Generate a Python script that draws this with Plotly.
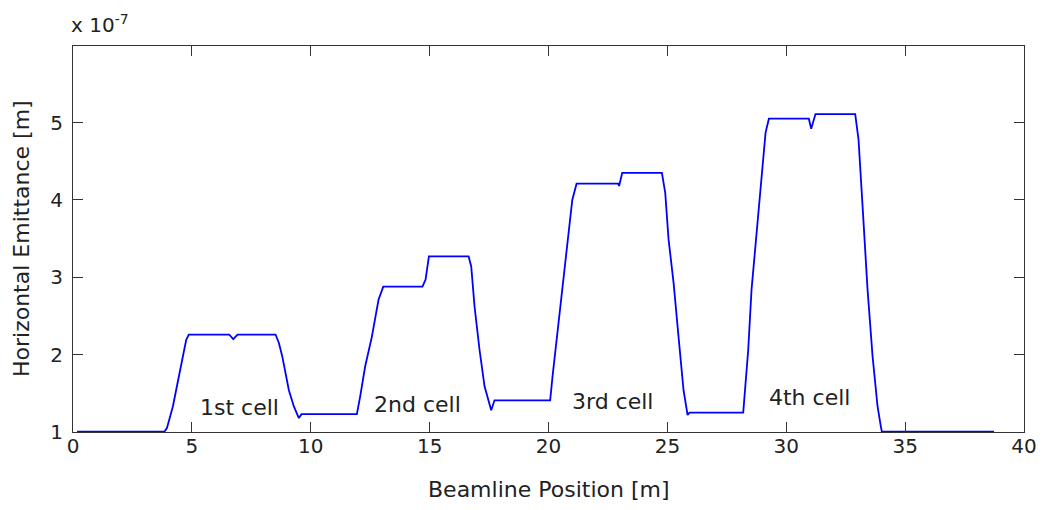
import plotly.graph_objects as go

# Beamline position [m]
position = [0.17, 3.85, 3.95, 4.20, 4.48, 4.76, 4.87, 6.57, 6.74, 6.92, 8.52, 8.66, 8.80, 9.08, 9.29, 9.50, 9.61,
            11.94, 12.08, 12.29, 12.57, 12.85, 13.05, 14.70, 14.83, 14.97, 16.64, 16.75, 16.89, 17.10, 17.31, 17.59, 17.73,
            20.07, 20.17, 20.38, 20.59, 20.79, 21.00, 21.18, 22.93, 22.97, 23.10, 24.77, 24.91, 25.05, 25.26, 25.47, 25.68, 25.85, 25.93,
            28.19, 28.26, 28.40, 28.54, 28.74, 28.95, 29.13, 29.27, 30.95, 31.05, 31.23, 32.90, 33.04, 33.21, 33.42, 33.63, 33.84, 33.98, 34.02, 38.74]
# Horizontal emittance [x 1e-7 m]
emittance = [1.005, 1.005, 1.05, 1.33, 1.76, 2.19, 2.26, 2.26, 2.20, 2.26, 2.26, 2.15, 1.98, 1.54, 1.33, 1.18, 1.23,
             1.23, 1.46, 1.85, 2.23, 2.71, 2.88, 2.88, 2.97, 3.27, 3.27, 3.14, 2.62, 2.06, 1.59, 1.28, 1.41,
             1.41, 1.72, 2.28, 2.84, 3.44, 4.00, 4.21, 4.21, 4.18, 4.35, 4.35, 4.09, 3.49, 2.93, 2.23, 1.54, 1.22, 1.25,
             1.25, 1.54, 2.06, 2.84, 3.53, 4.26, 4.87, 5.05, 5.05, 4.92, 5.11, 5.11, 4.78, 3.92, 2.84, 1.98, 1.33, 1.07, 1.005, 1.005]

cell_labels = ["1st cell", "2nd cell", "3rd cell", "4th cell"]
cell_x = [6.99, 14.5, 22.7, 30.97]
cell_y = [1.32, 1.36, 1.40, 1.44]

x_ticks = [0, 5, 10, 15, 20, 25, 30, 35, 40]
y_ticks = [1, 2, 3, 4, 5]

FONT = "DejaVu Sans, Verdana, sans-serif"
TXT = "#222222"
FS = 20
FS_T = 22

fig = go.Figure()
fig.add_trace(go.Scatter(x=position, y=emittance, mode="lines",
                         line=dict(color="#0000ff", width=1.8), showlegend=False))

for t, xx, yy in zip(cell_labels, cell_x, cell_y):
    fig.add_annotation(x=xx, y=yy, text=t, showarrow=False, xref="x", yref="y",
                       font=dict(family=FONT, size=FS_T, color=TXT))

fig.add_annotation(x=0, y=1.0, xref="paper", yref="paper", xanchor="left", yanchor="bottom",
                   xshift=-4, yshift=7, text="x 10<sup>-7</sup>", showarrow=False,
                   font=dict(family=FONT, size=FS, color=TXT))

# axis titles
fig.add_annotation(x=0.5, y=0, xref="paper", yref="paper", xanchor="center", yanchor="middle",
                   yshift=-57, text="Beamline Position [m]", showarrow=False,
                   font=dict(family=FONT, size=FS_T, color=TXT))
fig.add_annotation(x=0, y=0.5, xref="paper", yref="paper", xanchor="center", yanchor="middle",
                   xshift=-52, textangle=-90, text="Horizontal Emittance [m]", showarrow=False,
                   font=dict(family=FONT, size=FS_T, color=TXT))

axis_common = dict(showgrid=False, zeroline=False, showline=True, linecolor="#333333", linewidth=1.2,
                   mirror="ticks", ticks="inside", ticklen=10, tickwidth=1, tickcolor="#333333",
                   tickfont=dict(family=FONT, size=FS, color=TXT), ticklabeloverflow="allow")

fig.update_xaxes(range=[0, 40], tickvals=x_ticks, ticktext=[str(v) for v in x_ticks],
                 ticklabelstandoff=-4, **axis_common)
fig.update_yaxes(range=[1, 5.99], tickvals=y_ticks, ticktext=[str(v) for v in y_ticks],
                 ticklabelstandoff=5, **axis_common)

# page body has an 8px margin; plot box lands at about x 73-1024, y 46-432 (room left for the "40" label)
fig.update_layout(width=1037, height=494, margin=dict(l=65, r=21, t=38, b=70, autoexpand=False),
                  plot_bgcolor="white", paper_bgcolor="white")

fig.write_html("out.html")
